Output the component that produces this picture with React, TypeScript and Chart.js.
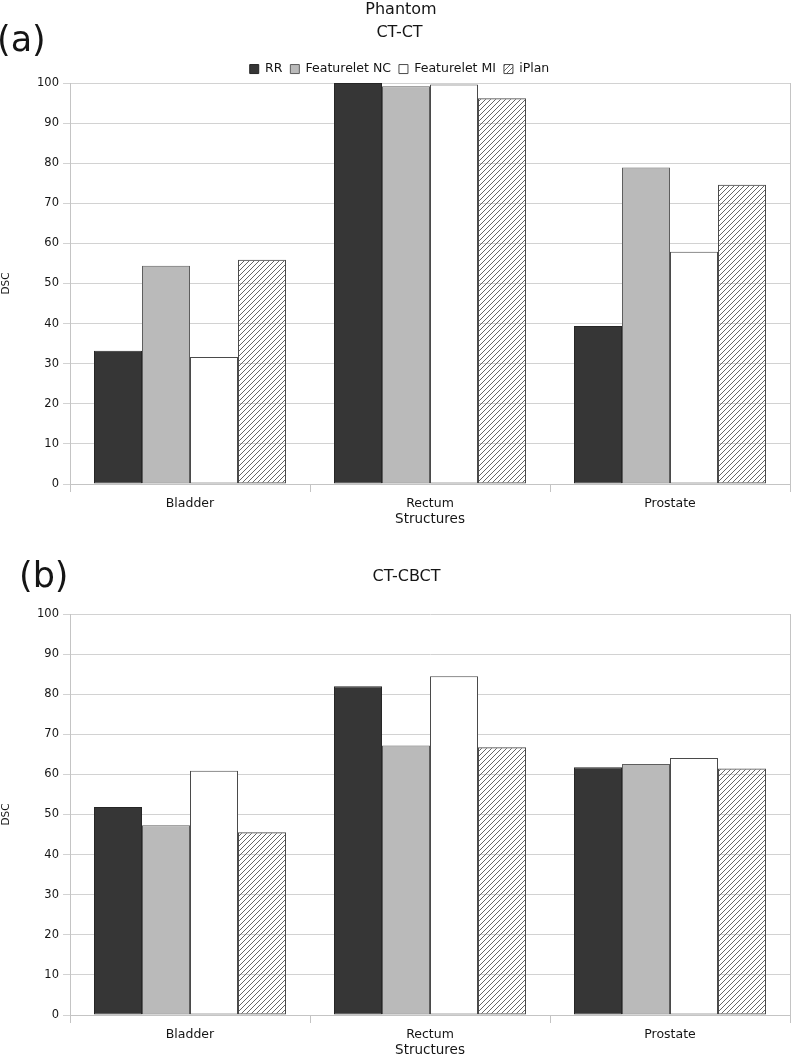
import React, { useEffect, useRef } from "react";
import { Chart, registerables } from "chart.js";

Chart.register(...registerables);

// ---------- data ----------
const categories = ["Bladder", "Rectum", "Prostate"];
const seriesNames = ["RR", "Featurelet NC", "Featurelet MI", "iPlan"];

// (a) CT-CT
const ctctRR = [33.2, 100, 39.4];
const ctctNC = [54.4, 99.2, 78.9];
const ctctMI = [31.7, 99.6, 57.9];
const ctctIPlan = [55.9, 96.2, 74.6];

// (b) CT-CBCT
const cbctRR = [51.9, 82.0, 61.8];
const cbctNC = [47.3, 67.2, 62.6];
const cbctMI = [60.9, 84.5, 64.1];
const cbctIPlan = [45.6, 66.8, 61.5];

const yTickValues = [0, 10, 20, 30, 40, 50, 60, 70, 80, 90, 100];

const FONT = "'DejaVu Sans', sans-serif";
const TEXT = "#151515";
const GRID = "#d2d2d2";
const AXIS = "#c4c4c4";

function makeHatch(): CanvasPattern | string {
  const n = 5;
  const c = document.createElement("canvas");
  c.width = n;
  c.height = n;
  const g = c.getContext("2d");
  if (!g) return "#999";
  g.strokeStyle = "#555555";
  g.lineWidth = 0.9;
  g.beginPath();
  g.moveTo(-1, n + 1);
  g.lineTo(n + 1, -1);
  g.moveTo(-1, 1);
  g.lineTo(1, -1);
  g.moveTo(n - 1, n + 1);
  g.lineTo(n + 1, n - 1);
  g.stroke();
  return g.createPattern(c, "repeat") || "#999";
}

const legendFitPlugin = {
  id: "legendFit",
  beforeUpdate(chart: any, _args: any, opts: any) {
    const lg = chart.legend;
    if (!lg || lg.__patched) return;
    const orig = lg.fit;
    lg.fit = function () {
      orig.call(this);
      if (this.options.display) this.height = opts.height;
    };
    lg.__patched = true;
  },
};

interface PanelOpts {
  title: string;
  rr: number[];
  nc: number[];
  mi: number[];
  ip: number[];
  showLegend: boolean;
  padLeft: number;
  titlePadTop: number;
  titlePadBottom: number;
  legendHeight: number;
}

function makeConfig(o: PanelOpts): any {
  const hatch = makeHatch();
  const common = { borderWidth: 1, borderSkipped: false };
  return {
    type: "bar",
    data: {
      labels: categories,
      datasets: [
        { label: seriesNames[0], data: o.rr, backgroundColor: "#363636", borderColor: "#262626", ...common },
        { label: seriesNames[1], data: o.nc, backgroundColor: "#bababa", borderColor: "#5e5e5e", ...common },
        { label: seriesNames[2], data: o.mi, backgroundColor: "#ffffff", borderColor: "#4a4a4a", ...common },
        { label: seriesNames[3], data: o.ip, backgroundColor: hatch, borderColor: "#4a4a4a", ...common },
      ],
    },
    options: {
      responsive: false,
      maintainAspectRatio: false,
      animation: false,
      layout: { padding: { left: o.padLeft, right: 1, top: 0, bottom: 0 } },
      datasets: { bar: { categoryPercentage: 0.8, barPercentage: 1.0 } },
      plugins: {
        title: {
          display: true,
          text: o.title,
          color: TEXT,
          font: { family: FONT, size: 16, weight: "normal" },
          padding: { top: o.titlePadTop, bottom: o.titlePadBottom },
        },
        legend: {
          display: o.showLegend,
          position: "top",
          labels: {
            color: TEXT,
            font: { family: FONT, size: 12.5 },
            boxWidth: 9,
            boxHeight: 9,
            padding: 8,
          },
        },
        legendFit: { height: o.legendHeight },
        tooltip: { enabled: false },
      },
      scales: {
        x: {
          grid: { display: true, drawOnChartArea: false, tickLength: 8, color: AXIS, offset: true },
          border: { color: AXIS },
          ticks: { color: TEXT, font: { family: FONT, size: 12.5 }, padding: 4 },
          title: {
            display: true,
            text: "Structures",
            color: TEXT,
            font: { family: FONT, size: 13.5 },
            padding: { top: 0, bottom: 7 },
          },
          afterFit(s: any) {
            s.height = 51;
          },
        },
        y: {
          min: 0,
          max: 100,
          afterBuildTicks(axis: any) {
            axis.ticks = yTickValues.map((v) => ({ value: v }));
          },
          ticks: { color: TEXT, font: { family: FONT, size: 11.5 }, padding: 4 },
          grid: { color: GRID, tickLength: 7 },
          border: { color: AXIS },
          title: {
            display: true,
            text: "DSC",
            color: TEXT,
            font: { family: FONT, size: 10.5 },
            padding: { top: -o.padLeft, bottom: 0 },
          },
          afterFit(s: any) {
            s.width = 70 - o.padLeft;
          },
        },
        y2: {
          position: "right",
          display: true,
          ticks: { display: false },
          grid: { drawOnChartArea: false, drawTicks: false },
          border: { color: AXIS },
          afterFit(s: any) {
            s.width = 0;
          },
        },
      },
    },
    plugins: [legendFitPlugin],
  };
}

function Panel(props: { opts: PanelOpts; top: number; height: number }) {
  const ref = useRef<HTMLCanvasElement | null>(null);
  useEffect(() => {
    if (!ref.current) return;
    const chart = new Chart(ref.current, makeConfig(props.opts));
    return () => chart.destroy();
  }, []);
  return (
    <canvas
      ref={ref}
      width={791}
      height={props.height}
      style={{ position: "absolute", left: 0, top: props.top, width: 791, height: props.height }}
    />
  );
}

const panelA: PanelOpts = {
  title: "CT-CT",
  rr: ctctRR,
  nc: ctctNC,
  mi: ctctMI,
  ip: ctctIPlan,
  showLegend: true,
  padLeft: 9,
  titlePadTop: 23.4,
  titlePadBottom: 12.2,
  legendHeight: 28.2,
};

const panelB: PanelOpts = {
  title: "CT-CBCT",
  rr: cbctRR,
  nc: cbctNC,
  mi: cbctMI,
  ip: cbctIPlan,
  showLegend: false,
  padLeft: 23,
  titlePadTop: 27.4,
  titlePadBottom: 27.4,
  legendHeight: 0,
};

export default function App() {
  return (
    <div
      style={{
        position: "fixed",
        left: 0,
        top: 0,
        width: 791,
        height: 1058,
        overflow: "hidden",
        background: "#fff",
        fontFamily: FONT,
        color: TEXT,
      }}
    >
      <Panel opts={panelA} top={0} height={535} />
      <Panel opts={panelB} top={540} height={526} />
      <div
        style={{
          position: "absolute",
          left: 0,
          top: 0,
          width: 802,
          textAlign: "center",
          fontSize: 16,
          lineHeight: "17px",
        }}
      >
        Phantom
      </div>
      <div style={{ position: "absolute", left: -3, top: 22, fontSize: 35, lineHeight: "35px" }}>(a)</div>
      <div style={{ position: "absolute", left: 19, top: 558, fontSize: 35, lineHeight: "35px" }}>(b)</div>
    </div>
  );
}
